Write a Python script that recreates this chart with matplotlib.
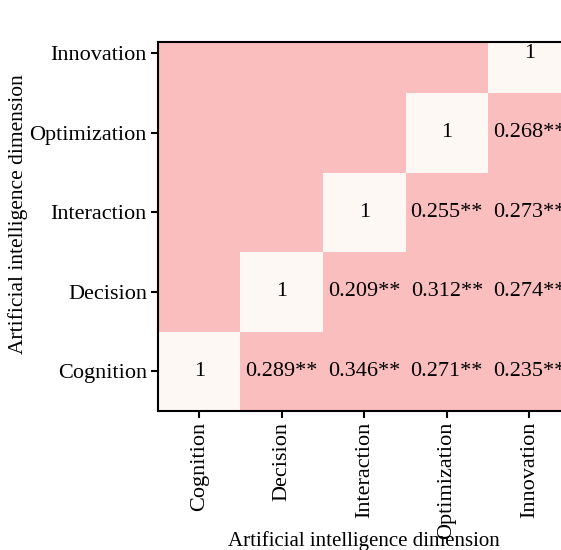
import numpy as np
import matplotlib
matplotlib.use("Agg")
import matplotlib.pyplot as plt
from matplotlib.colors import ListedColormap, BoundaryNorm

plt.rcParams["font.family"] = ["Liberation Serif", "DejaVu Serif"]

dimensions = ["Cognition", "Decision", "Interaction", "Optimization", "Innovation"]

# Pairwise correlations (row dimension vs. later column dimension)
corr_cognition = [0.289, 0.346, 0.271, 0.235]
corr_decision = [0.209, 0.312, 0.274]
corr_interaction = [0.255, 0.273]
corr_optimization = [0.268]
significance = "**"

upper_rows = [corr_cognition, corr_decision, corr_interaction, corr_optimization, []]

n = len(dimensions)
matrix = np.zeros((n, n))
for i in range(n):
    matrix[i, i] = 1.0
    for k, v in enumerate(upper_rows[i]):
        matrix[i, i + 1 + k] = v

cmap = ListedColormap(["#FBBEBE", "#FEF8F5"])
norm = BoundaryNorm([0, 0.5, 1.01], cmap.N)

fig = plt.figure(figsize=(5.61, 5.50), dpi=100)
ax = fig.add_axes([158 / 561, 1 - 411 / 550, (570.5 - 158) / 561, (411 - 42) / 550])

ax.imshow(matrix, cmap=cmap, norm=norm, origin="lower", aspect="auto",
          interpolation="nearest")

fs = 16
for i in range(n):
    for j in range(i, n):
        v = matrix[i, j]
        txt = "1" if i == j else f"{v:.3f}{significance}"
        ax.text(j, i, txt, ha="center", va="center", fontsize=fs, color="black")

ax.set_xlim(-0.5, n - 0.5)
ax.set_ylim(-0.5, n - 1 - 0.5 + 0.64)

ax.set_xticks(range(n))
ax.set_xticklabels(dimensions, rotation=90, fontsize=fs)
ax.set_yticks(range(n))
ax.set_yticklabels(dimensions, fontsize=fs)
ax.tick_params(axis="both", length=5, width=1.5, pad=3)

for s in ax.spines.values():
    s.set_linewidth(1.5)

ax.set_xlabel("Artificial intelligence dimension", fontsize=15)
ax.set_ylabel("Artificial intelligence dimension", fontsize=15.5)
ax.xaxis.set_label_coords(0.5, (411 - 531) / 369)
ax.yaxis.set_label_coords((28 - 158) / 412.5, (411 - 214) / 369)

fig.savefig("out.png", dpi=100)
